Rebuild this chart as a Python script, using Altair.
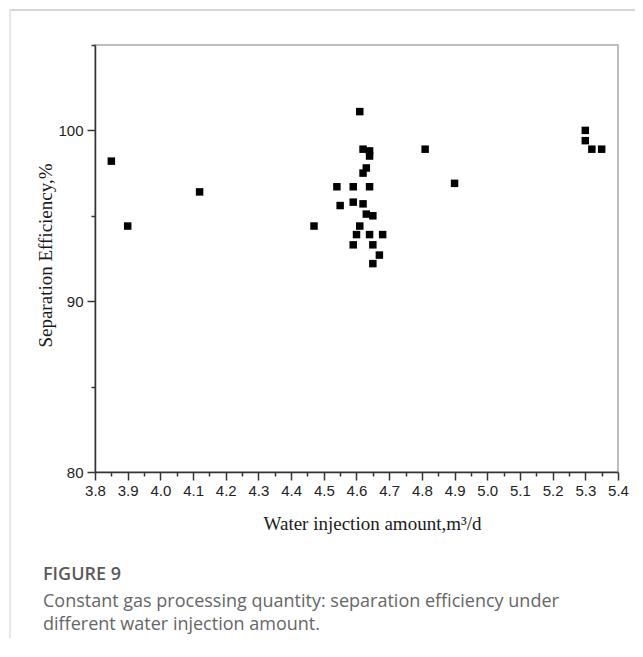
import altair as alt
import pandas as pd

# Data
water_injection = [3.85, 3.90, 4.12, 4.61, 4.62, 4.64, 4.64, 4.63, 4.62, 4.54, 4.59,
                   4.64, 4.55, 4.59, 4.62, 4.63, 4.65, 4.61, 4.60, 4.64, 4.68, 4.59,
                   4.65, 4.67, 4.65, 4.81, 4.90, 4.47, 5.30, 5.30, 5.32, 5.35]
separation_eff = [98.2, 94.4, 96.4, 101.1, 98.9, 98.8, 98.5, 97.8, 97.5, 96.7, 96.7,
                  96.7, 95.6, 95.8, 95.7, 95.1, 95.0, 94.4, 93.9, 93.9, 93.9, 93.3,
                  93.3, 92.7, 92.2, 98.9, 96.9, 94.4, 100.0, 99.4, 98.9, 98.9]

x_ticks = [round(3.8 + 0.05 * i, 2) for i in range(33)]
y_ticks = [80, 85, 90, 95, 100, 105]

caption_head = "FIGURE 9"
caption_lines = ["Constant gas processing quantity: separation efficiency under",
                 "different water injection amount."]

df = pd.DataFrame({"x": water_injection, "y": separation_eff})

W, H = 523, 427
PAD_L, PAD_T, PAD_R = 87, 37, 17
TOTAL_W, TOTAL_H = 627, 630
PAD_B = TOTAL_H - PAD_T - H

major_x = "abs(datum.value*10 - round(datum.value*10)) < 0.001"
major_y = "datum.value % 10 == 0"

points = alt.Chart(df).mark_square(size=56, color="black", opacity=1, filled=True).encode(
    x=alt.X("x:Q",
            scale=alt.Scale(domain=[3.8, 5.4], nice=False, zero=False),
            axis=alt.Axis(
                values=x_ticks,
                labelExpr=f"{major_x} ? format(datum.value, '.1f') : ''",
                tickSize={"condition": {"test": major_x, "value": 8}, "value": 4},
                labelOverlap=False, labelFlush=False, grid=False,
                title="Water injection amount,m³/d",
                titleX=277, titleY=51, titleAlign="center", titleBaseline="middle",
                labelPadding=3,
            )),
    y=alt.Y("y:Q",
            scale=alt.Scale(domain=[80, 105], nice=False, zero=False),
            axis=alt.Axis(
                values=y_ticks,
                labelExpr=f"{major_y} ? datum.value : ''",
                tickSize={"condition": {"test": major_y, "value": 8}, "value": 4},
                labelOverlap=False, labelFlush=False, grid=False,
                title="Separation Efficiency,%",
                titleX=-50, titleY=210, titleAngle=270,
                titleAlign="center", titleBaseline="middle",
                labelPadding=4,
            )),
)

one = alt.InlineData(values=[{"k": 1}])

frame_top = alt.Chart(one).mark_rule(color="#d6d6d6", strokeWidth=2).encode(
    x=alt.value(-85), x2=alt.value(TOTAL_W - PAD_L), y=alt.value(-35))
frame_left = alt.Chart(one).mark_rule(color="#d0d0d0", strokeWidth=1).encode(
    x=alt.value(-85), y=alt.value(-35), y2=alt.value(TOTAL_H - PAD_T))

head = alt.Chart(one).mark_text(
    font="Open Sans", fontSize=18, fontWeight=600, color="#5a5a5a",
    align="left", baseline="alphabetic").encode(
    x=alt.value(-52), y=alt.value(535), text=alt.value(caption_head))
line1 = alt.Chart(one).mark_text(
    font="Open Sans", fontSize=18, color="#666666",
    align="left", baseline="alphabetic").encode(
    x=alt.value(-52), y=alt.value(562), text=alt.value(caption_lines[0]))
line2 = alt.Chart(one).mark_text(
    font="Open Sans", fontSize=18, color="#666666",
    align="left", baseline="alphabetic").encode(
    x=alt.value(-52), y=alt.value(585), text=alt.value(caption_lines[1]))

chart = alt.layer(frame_top, frame_left, points, head, line1, line2).properties(
    width=W, height=H,
    autosize=alt.AutoSizeParams(type="none"),
    padding={"left": PAD_L, "top": PAD_T, "right": PAD_R, "bottom": PAD_B},
    background="white",
).configure_view(
    stroke="#a8a8a8", strokeWidth=1.5
).configure_axis(
    domainColor="#333333", domainWidth=1.5,
    tickColor="#333333", tickWidth=1.5,
    labelFont="Arial", labelFontSize=15, labelColor="#222222",
    titleFont="Liberation Serif", titleFontSize=19, titleFontWeight="normal",
    titleColor="#1a1a1a",
)

chart.save("out.html", embed_options={"renderer": "svg", "actions": False})
